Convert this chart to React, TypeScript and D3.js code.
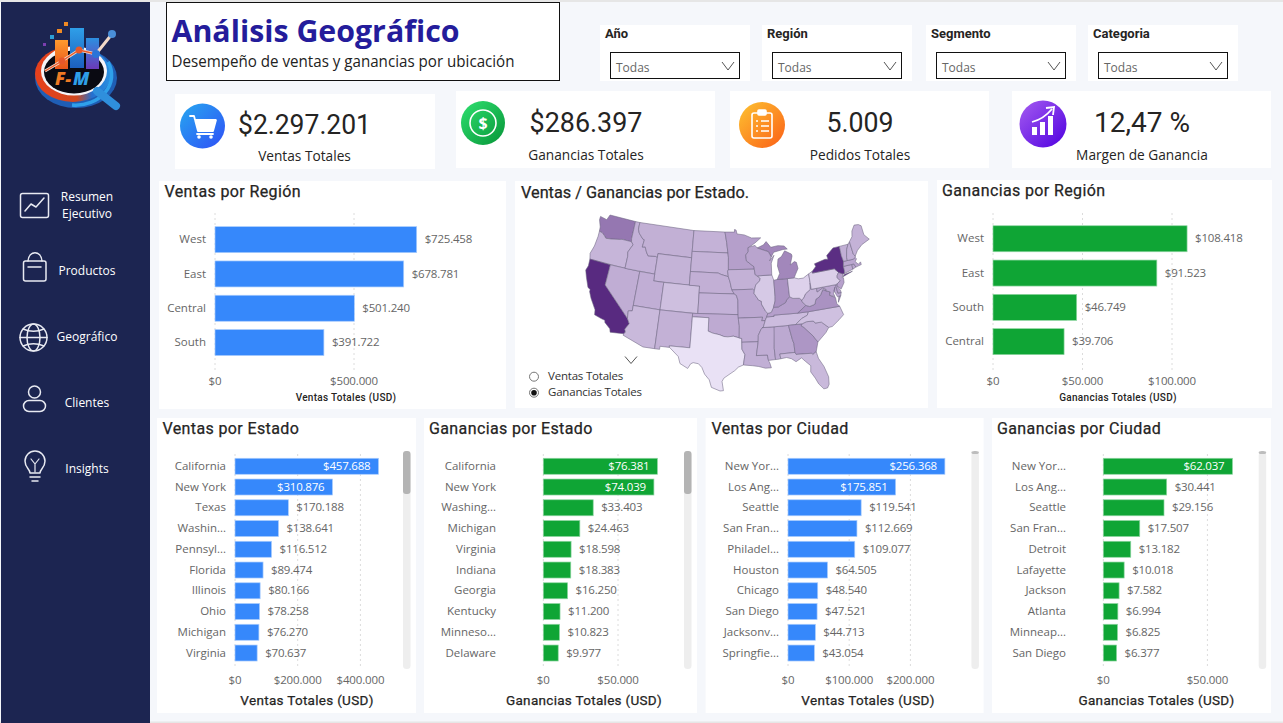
import * as d3 from "d3";

const SANS = "'Open Sans', 'Noto Sans', sans-serif";
const DIN = "Roboto, 'Noto Sans', sans-serif";

// data
const regionSalesNames = ["West", "East", "Central", "South"];
const regionSalesValues = [725458, 678781, 501240, 391722];
const regionProfitNames = ["West", "East", "South", "Central"];
const regionProfitValues = [108418, 91523, 46749, 39706];

const stateSalesNames = ["California", "New York", "Texas", "Washin...", "Pennsyl...", "Florida", "Illinois", "Ohio", "Michigan", "Virginia"];
const stateSalesValues = [457688, 310876, 170188, 138641, 116512, 89474, 80166, 78258, 76270, 70637];
const stateProfitNames = ["California", "New York", "Washing...", "Michigan", "Virginia", "Indiana", "Georgia", "Kentucky", "Minneso...", "Delaware"];
const stateProfitValues = [76381, 74039, 33403, 24463, 18598, 18383, 16250, 11200, 10823, 9977];
const citySalesNames = ["New Yor...", "Los Ang...", "Seattle", "San Fran...", "Philadel...", "Houston", "Chicago", "San Diego", "Jacksonv...", "Springfie..."];
const citySalesValues = [256368, 175851, 119541, 112669, 109077, 64505, 48540, 47521, 44713, 43054];
const cityProfitNames = ["New Yor...", "Los Ang...", "Seattle", "San Fran...", "Detroit", "Lafayette", "Jackson", "Atlanta", "Minneap...", "San Diego"];
const cityProfitValues = [62037, 30441, 29156, 17507, 13182, 10018, 7582, 6994, 6825, 6377];

const slicerTitles = ["Año", "Región", "Segmento", "Categoria"];
const navLabels = [["Resumen", "Ejecutivo"], ["Productos"], ["Geográfico"], ["Clientes"], ["Insights"]];
const legendLabels = ["Ventas Totales", "Ganancias Totales"];

// ganancias por estado, estimated from the map shading
const stateProfit: Record<string, number> = {
  CA: 76381, NY: 74039, WA: 33403, MI: 24463, VA: 18598, IN: 18383, GA: 16250, KY: 11200, MN: 10823, DE: 9977,
  NJ: 9772, WI: 8402, RI: 7286, MD: 7031, MA: 6786, MO: 6436, AL: 5787, OK: 4854, AR: 4009, CT: 3511, NV: 3316,
  MS: 3172, UT: 2547, VT: 2244, LA: 2196, NE: 2037, MT: 1833, SC: 1769, NH: 1706, IA: 1183, NM: 1157,
  KS: 836, ID: 827, ME: 454, SD: 394, ND: 230, WV: 186, WY: 100, OR: -1190, FL: -3399, AZ: -3428,
  TN: -5342, CO: -6528, NC: -7491, IL: -12608, PA: -15560, OH: -16971, TX: -25729,
};

// simplified state outlines, [lon, lat]
const stateShapes: Record<string, number[][][]> = {
  WA: [[[-124.7,48.4],[-123.2,48.2],[-122.8,49],[-117.03,49],[-117.04,46.4],[-116.92,45.99],[-118.98,46],[-119.3,45.93],[-121.2,45.65],[-122.3,45.55],[-122.8,45.9],[-123.4,46.2],[-124,46.27],[-124.1,46.9],[-124.7,47.9]]],
  OR: [[[-124,46.27],[-123.4,46.2],[-122.8,45.9],[-122.3,45.55],[-121.2,45.65],[-119.3,45.93],[-118.98,46],[-116.92,45.99],[-116.46,45.6],[-116.9,44.9],[-117.2,44.4],[-117.03,43.8],[-117.03,42],[-124.2,42],[-124.5,42.8],[-124.1,44],[-123.95,45.5]]],
  CA: [[[-124.2,42],[-120,42],[-120,39],[-114.63,35],[-114.14,34.3],[-114.72,33.4],[-114.52,33],[-114.72,32.72],[-117.12,32.53],[-117.3,33],[-118.4,33.74],[-118.5,34.03],[-119.2,34.15],[-120.5,34.45],[-120.65,35.15],[-121.9,36.6],[-122.5,37.5],[-122.5,37.8],[-123,38],[-123.8,39.3],[-124.35,40.3],[-124.1,41]]],
  NV: [[[-120,42],[-114.04,42],[-114.04,36.2],[-114.75,36.1],[-114.63,35],[-120,39]]],
  ID: [[[-117.03,49],[-116.05,49],[-116.05,48],[-115.7,47.45],[-114.7,46.7],[-114.35,46.65],[-114.5,45.55],[-113.9,45.65],[-113.45,44.95],[-113,44.45],[-111.5,44.55],[-111.05,44.48],[-111.05,42],[-117.03,42],[-117.03,43.8],[-117.2,44.4],[-116.9,44.9],[-116.46,45.6],[-116.92,45.99],[-117.04,46.4]]],
  MT: [[[-116.05,49],[-104.05,49],[-104.05,45],[-111.05,45],[-111.05,44.48],[-111.5,44.55],[-113,44.45],[-113.45,44.95],[-113.9,45.65],[-114.5,45.55],[-114.35,46.65],[-114.7,46.7],[-115.7,47.45],[-116.05,48]]],
  WY: [[[-111.05,45],[-104.05,45],[-104.05,41],[-111.05,41]]],
  UT: [[[-114.04,42],[-111.05,42],[-111.05,41],[-109.05,41],[-109.05,37],[-114.04,37]]],
  CO: [[[-109.05,41],[-102.05,41],[-102.05,37],[-109.05,37]]],
  AZ: [[[-114.04,37],[-109.05,37],[-109.05,31.33],[-111.07,31.33],[-114.81,32.5],[-114.72,32.72],[-114.52,33],[-114.72,33.4],[-114.14,34.3],[-114.63,35],[-114.75,36.1],[-114.04,36.2]]],
  NM: [[[-109.05,37],[-103,37],[-103.04,32],[-106.62,32],[-106.53,31.78],[-108.2,31.78],[-108.2,31.33],[-109.05,31.33]]],
  ND: [[[-104.05,49],[-97.23,49],[-96.85,47.5],[-96.56,45.94],[-104.05,45.94]]],
  SD: [[[-104.05,45.94],[-96.56,45.94],[-96.45,45.3],[-96.45,43.5],[-96.6,43.3],[-96.45,42.49],[-97.9,42.8],[-98.5,43],[-104.05,43]]],
  NE: [[[-104.05,43],[-98.5,43],[-97.9,42.8],[-96.45,42.49],[-96.1,41.7],[-95.9,41],[-95.31,40],[-102.05,40],[-102.05,41],[-104.05,41]]],
  KS: [[[-102.05,40],[-95.31,40],[-94.9,39.8],[-94.62,39.1],[-94.62,37],[-102.05,37]]],
  OK: [[[-103,37],[-94.62,37],[-94.43,35.4],[-94.48,33.64],[-95.5,33.9],[-96.5,33.8],[-97.2,33.85],[-98,34.1],[-99.2,34.3],[-100,34.56],[-100,36.5],[-103,36.5]]],
  TX: [[[-106.62,32],[-103.04,32],[-103,36.5],[-100,36.5],[-100,34.56],[-99.2,34.3],[-98,34.1],[-97.2,33.85],[-96.5,33.8],[-95.5,33.9],[-94.48,33.64],[-94.04,33.55],[-94.04,32],[-93.55,31.2],[-93.85,29.7],[-94.7,29.4],[-95.3,28.9],[-97.1,27.8],[-97.4,27.3],[-97.15,25.96],[-97.7,25.9],[-99.1,26.4],[-99.5,27.5],[-100.3,28.3],[-100.8,29.25],[-101.4,29.77],[-102.3,29.88],[-102.7,29.7],[-103.15,28.98],[-104.5,29.6],[-104.9,30.6],[-106.53,31.78]]],
  MN: [[[-97.23,49],[-95.15,49],[-95.15,49.38],[-94.8,49.3],[-94.6,48.72],[-93,48.55],[-91.5,48.07],[-89.5,48],[-90.8,47.3],[-92.05,46.75],[-92.3,46.66],[-92.3,46.1],[-92.85,45.6],[-92.75,44.75],[-91.25,43.85],[-91.22,43.5],[-96.45,43.5],[-96.45,45.3],[-96.56,45.94],[-96.85,47.5]]],
  IA: [[[-96.45,43.5],[-91.22,43.5],[-91.1,42.7],[-90.15,42.1],[-90.3,41.75],[-91.1,41.2],[-91.42,40.38],[-91.73,40.61],[-95.77,40.58],[-95.9,41],[-96.1,41.7],[-96.45,42.49],[-96.6,43.3]]],
  MO: [[[-95.77,40.58],[-91.73,40.61],[-91.42,40.38],[-91.5,40],[-90.7,39],[-90.18,38.8],[-90.2,38.4],[-89.5,37.3],[-89.13,37],[-89.4,36.5],[-89.7,36],[-90.37,36],[-90.15,36.5],[-94.62,36.5],[-94.62,39.1],[-94.9,39.8],[-95.31,40]]],
  AR: [[[-94.62,36.5],[-90.15,36.5],[-90.37,36],[-89.7,36],[-90.1,35.1],[-90.6,34.7],[-91.1,33.9],[-91.17,33],[-94.04,33],[-94.04,33.55],[-94.48,33.64],[-94.43,35.4]]],
  LA: [[[-94.04,33],[-91.17,33],[-91.6,31],[-89.73,31],[-89.6,30.2],[-89.4,29.8],[-89.2,29.1],[-90.2,29.1],[-91.3,29.4],[-92.3,29.55],[-93.85,29.7],[-93.55,31.2],[-94.04,32]]],
  MS: [[[-91.17,33],[-91.1,33.9],[-90.6,34.7],[-90.3,35],[-88.2,35],[-88.1,34.9],[-88.47,31.9],[-88.4,30.25],[-89.6,30.2],[-89.73,31],[-91.6,31]]],
  AL: [[[-88.2,35],[-85.6,35],[-85.18,32.87],[-85,32.3],[-85,31],[-87.6,31],[-87.5,30.3],[-88,30.25],[-88.4,30.25],[-88.47,31.9]]],
  TN: [[[-90.3,35],[-90.1,35.1],[-89.7,36],[-89.4,36.5],[-88.05,36.5],[-88.07,36.68],[-83.68,36.6],[-81.68,36.59],[-82,36.1],[-83.1,35.75],[-84.3,35],[-85.6,35],[-88.2,35]]],
  KY: [[[-89.4,36.5],[-89.13,37],[-88.5,37.1],[-88,37.8],[-87.1,37.8],[-86.3,38.1],[-85.7,38.3],[-85.4,38.7],[-84.8,39.1],[-84.2,38.8],[-83,38.7],[-82.6,38.4],[-82.6,38.17],[-81.97,37.54],[-83.68,36.6],[-88.07,36.68],[-88.05,36.5]]],
  IL: [[[-91.42,40.38],[-91.1,41.2],[-90.3,41.75],[-90.15,42.1],[-90.64,42.5],[-87.8,42.5],[-87.5,41.7],[-87.53,39.35],[-87.6,38.7],[-88,37.8],[-88.5,37.1],[-89.13,37],[-89.5,37.3],[-90.2,38.4],[-90.18,38.8],[-90.7,39],[-91.5,40]]],
  IN: [[[-87.5,41.7],[-86.82,41.76],[-84.8,41.73],[-84.8,39.1],[-85.4,38.7],[-85.7,38.3],[-86.3,38.1],[-87.1,37.8],[-88,37.8],[-87.6,38.7],[-87.53,39.35]]],
  OH: [[[-84.8,41.73],[-83.45,41.73],[-82.7,41.5],[-81.7,41.5],[-80.52,41.98],[-80.52,40.64],[-80.7,39.7],[-81.7,39.2],[-82.2,38.6],[-82.6,38.4],[-83,38.7],[-84.2,38.8],[-84.8,39.1]]],
  MI: [[[-86.82,41.76],[-84.8,41.73],[-83.45,41.73],[-83.1,42.2],[-82.45,43],[-82.6,43.9],[-83,44.05],[-83.9,43.65],[-83.3,44.9],[-83.4,45.2],[-84.7,45.78],[-85.5,45],[-86.25,44.7],[-86.5,43.7],[-86.2,42.6]],
       [[-90.4,46.55],[-88.1,45.9],[-87.6,45.1],[-87,45.75],[-85,46],[-84.1,46],[-84.7,46.5],[-86,46.65],[-87.5,46.5],[-88.4,47.4],[-89,46.95]]],
  WI: [[[-92.3,46.66],[-92.05,46.75],[-90.8,46.95],[-90.4,46.55],[-88.1,45.9],[-87.6,45.1],[-88,44.55],[-87,45.3],[-87.7,44.2],[-87.8,42.5],[-90.64,42.5],[-91.1,42.7],[-91.22,43.5],[-91.25,43.85],[-92.75,44.75],[-92.85,45.6],[-92.3,46.1]]],
  GA: [[[-85.6,35],[-84.3,35],[-83.1,35],[-83.35,34.7],[-82.9,34.45],[-81.5,33],[-80.85,32.05],[-81.4,30.7],[-82.05,30.36],[-82.2,30.57],[-84.86,30.7],[-85,31],[-85,32.3],[-85.18,32.87]]],
  FL: [[[-87.6,31],[-85,31],[-84.86,30.7],[-82.2,30.57],[-82.05,30.36],[-81.4,30.7],[-81.2,29.7],[-80.5,28.4],[-80.03,26.8],[-80.15,25.7],[-80.5,25.2],[-81.1,25.15],[-81.8,26],[-82.2,26.9],[-82.8,27.9],[-82.65,28.8],[-83.4,29.5],[-84,30.1],[-85,29.65],[-85.7,30.15],[-86.5,30.4],[-87.5,30.3]]],
  SC: [[[-83.1,35],[-82.3,35.2],[-81.05,35.15],[-80.8,34.82],[-79.67,34.8],[-78.55,33.86],[-79.2,33.2],[-80.85,32.05],[-81.5,33],[-82.9,34.45],[-83.35,34.7]]],
  NC: [[[-84.3,35],[-83.1,35.75],[-82,36.1],[-81.68,36.59],[-75.87,36.55],[-75.5,35.25],[-76.5,34.65],[-77.9,33.9],[-78.55,33.86],[-79.67,34.8],[-80.8,34.82],[-81.05,35.15],[-82.3,35.2],[-83.1,35]]],
  VA: [[[-83.68,36.6],[-81.97,37.54],[-81.3,37.3],[-80.3,37.5],[-79.95,38.2],[-79.3,38.42],[-78.87,38.77],[-78.35,39.4],[-77.8,39.13],[-77.05,38.85],[-77.3,38.4],[-76.3,37.9],[-76.3,37],[-75.87,36.55],[-81.68,36.59]],
       [[-75.95,37.15],[-75.25,38.03],[-75.65,37.95]]],
  WV: [[[-82.6,38.17],[-82.6,38.4],[-82.2,38.6],[-81.7,39.2],[-80.7,39.7],[-80.52,40.64],[-80.52,39.72],[-79.48,39.72],[-79.48,39.2],[-78.35,39.63],[-77.72,39.32],[-77.8,39.13],[-78.35,39.4],[-78.87,38.77],[-79.3,38.42],[-79.95,38.2],[-80.3,37.5],[-81.3,37.3],[-81.97,37.54]]],
  MD: [[[-79.48,39.72],[-75.79,39.72],[-75.69,38.46],[-75.05,38.45],[-75.25,38.03],[-75.9,37.95],[-76.3,38.9],[-76,39.4],[-76.5,38.5],[-76.35,38.05],[-77.3,38.4],[-77.05,38.85],[-77.8,39.13],[-77.72,39.32],[-78.35,39.63],[-79.48,39.2]]],
  DE: [[[-75.79,39.72],[-75.4,39.8],[-75.55,39.5],[-75.1,38.8],[-75.05,38.45],[-75.69,38.46]]],
  PA: [[[-80.52,41.98],[-79.76,42.25],[-79.76,42],[-75.35,42],[-74.7,41.36],[-75.1,40.95],[-75.2,40.65],[-74.72,40.15],[-75.4,39.8],[-75.79,39.72],[-80.52,39.72]]],
  NJ: [[[-74.7,41.36],[-73.9,41],[-74.25,40.5],[-74,40.45],[-74.1,39.75],[-74.9,38.95],[-75.55,39.5],[-75.4,39.8],[-74.72,40.15],[-75.2,40.65],[-75.1,40.95]]],
  NY: [[[-79.76,42],[-79.76,42.25],[-78.9,42.85],[-79.05,43.27],[-76.8,43.63],[-76.2,43.55],[-76.3,44.1],[-74.7,45],[-73.35,45],[-73.4,43.6],[-73.25,42.75],[-73.5,42.05],[-73.5,41.3],[-73.65,41],[-73.9,41],[-74.7,41.36],[-75.35,42]],
       [[-74.05,40.6],[-72,41.05],[-73.7,40.88]]],
  CT: [[[-73.5,42.05],[-71.8,42.02],[-71.85,41.32],[-73.65,41],[-73.5,41.3]]],
  RI: [[[-71.8,42.02],[-71.38,42.02],[-71.15,41.5],[-71.85,41.32]]],
  MA: [[[-73.5,42.05],[-73.25,42.75],[-72.46,42.73],[-71.3,42.7],[-70.8,42.87],[-70.6,42.65],[-71,42.3],[-70.55,41.8],[-70,42.05],[-70,41.65],[-71.15,41.5],[-71.38,42.02],[-71.8,42.02]]],
  VT: [[[-73.35,45],[-71.5,45],[-72.05,44.3],[-72.45,43.2],[-72.46,42.73],[-73.25,42.75],[-73.4,43.6]]],
  NH: [[[-71.5,45],[-71.08,45.3],[-70.98,43.4],[-70.7,43.07],[-70.8,42.87],[-71.3,42.7],[-72.46,42.73],[-72.45,43.2],[-72.05,44.3]]],
  ME: [[[-71.08,45.3],[-70.3,45.9],[-70,46.7],[-69.2,47.45],[-68.3,47.35],[-67.8,47.07],[-67.8,45.7],[-67,44.85],[-68.8,44.4],[-70,43.75],[-70.7,43.07],[-70.98,43.4]]],
};

const money = d3.formatLocale({ decimal: ",", thousands: ".", grouping: [3], currency: ["$", ""] }).format("$,.0f");

const BLUE = "#3688fb";
const GREEN = "#0fa535";

type ChartProps = {
  title: string;
  names: string[];
  values: number[];
  ticks: number[];
  color: string;
  axisTitle: string;
  insideLabels: number;
  panel: [number, number, number, number];
  titleX: number;
  titleY: number;
  x0: number;
  lastTickX: number;
  labelX: number;
  band: [number, number];
  padding: number;
  grid: [number, number];
  tickY: number;
  axisX: number;
  axisY: number;
  axisSize: number;
  axisWeight?: number;
  scroll?: { x: number; thumb: number };
};

function Txt({ x, y, size, fill = "#222", anchor = "start", font = SANS, weight = 400, ls, fit, thick, children }: any) {
  // Open Sans sits a little low with a central baseline
  const dy = font === SANS ? -0.8 : 0;
  return (
    <text
      x={x}
      y={y + dy}
      fontSize={size}
      fill={fill}
      stroke={thick ? fill : undefined}
      strokeWidth={thick}
      textAnchor={anchor}
      fontFamily={font}
      fontWeight={weight}
      letterSpacing={ls}
      dominantBaseline="central"
      textLength={fit}
      lengthAdjust={fit ? "spacingAndGlyphs" : undefined}
    >
      {children}
    </text>
  );
}

function BarChart(p: ChartProps) {
  const x = d3.scaleLinear().domain([0, p.ticks[p.ticks.length - 1]]).range([p.x0, p.lastTickX]);
  const y = d3.scaleBand().domain(p.names).range(p.band).paddingInner(p.padding).paddingOuter(p.padding / 2);
  return (
    <g>
      <rect x={p.panel[0]} y={p.panel[1]} width={p.panel[2] - p.panel[0]} height={p.panel[3] - p.panel[1]} fill="#fff" />
      <Txt x={p.titleX} y={p.titleY} size={16} font={DIN} ls={0.38} thick={0.25} fill="#252423">{p.title}</Txt>
      {p.ticks.map((t) => (
        <g key={t}>
          <line x1={x(t)} x2={x(t)} y1={p.grid[0]} y2={p.grid[1]} stroke="#dcdcdc" strokeDasharray="2 3" />
          <Txt x={x(t)} y={p.tickY} size={11.5} fill="#666" anchor="middle" ls={-0.15}>{money(t)}</Txt>
        </g>
      ))}
      {p.names.map((n, i) => {
        const v = p.values[i];
        const inside = i < p.insideLabels;
        const yc = (y(n) as number) + y.bandwidth() / 2;
        return (
          <g key={n}>
            <Txt x={p.labelX} y={yc} size={11.5} fill="#666" anchor="end">{n}</Txt>
            <rect x={x(0)} y={y(n)} width={x(v) - x(0)} height={y.bandwidth()} fill={p.color} stroke={p.color === BLUE ? "#a9ccfd" : "#8fd6a2"} strokeWidth={0.7} />
            <Txt x={inside ? x(v) - 8 : x(v) + 8} y={yc} size={11.5} ls={-0.2} anchor={inside ? "end" : "start"} fill={inside ? "#fff" : "#666"}>{money(v)}</Txt>
          </g>
        );
      })}
      <Txt x={p.axisX} y={p.axisY} size={p.axisSize} anchor="middle" font={DIN} weight={p.axisWeight ?? 400} ls={0.3} thick={p.axisWeight ? undefined : 0.25} fill="#252423">{p.axisTitle}</Txt>
      {p.scroll && (
        <g>
          <rect x={p.scroll.x} y={452} width={7.5} height={217} rx={3.5} fill="#eeeeee" />
          <rect x={p.scroll.x} y={451} width={7.5} height={p.scroll.thumb} rx={3} fill={p.scroll.thumb > 10 ? "#b4b4b4" : "#bdbdbd"} />
        </g>
      )}
    </g>
  );
}

function UsMap() {
  const features = Object.keys(stateShapes).map((id) => ({
    type: "Feature" as const,
    id,
    properties: {},
    geometry: {
      type: "MultiPolygon" as const,
      coordinates: stateShapes[id].map((ring) => {
        const closed = [...ring, ring[0]];
        // d3 wants rings wound so the polygon is the small side of the globe
        return [d3.geoArea({ type: "Polygon", coordinates: [closed] } as any) > 2 * Math.PI ? closed.slice().reverse() : closed];
      }),
    },
  }));
  const projection = d3.geoAlbers().fitExtent([[585, 215], [870, 391]], { type: "FeatureCollection", features } as any);
  const path = d3.geoPath(projection);
  const profits = Object.values(stateProfit);
  const color = d3.scaleLinear<string>().domain([d3.min(profits) as number, d3.max(profits) as number]).range(["#e9e1f5", "#582a80"]);
  return (
    <g>
      {features.map((f) => (
        <path key={f.id} d={path(f as any) ?? ""} fill={color(stateProfit[f.id])} stroke="#6d6580" strokeWidth={0.55} strokeLinejoin="round" />
      ))}
    </g>
  );
}

function Chevron({ x, y, w = 7, h = 4 }: { x: number; y: number; w?: number; h?: number }) {
  return <polyline points={`${x - w},${y - h} ${x},${y + h} ${x + w},${y - h}`} fill="none" stroke="#555" strokeWidth={1} />;
}

function Logo() {
  return (
    <g>
      <defs>
        <linearGradient id="lgOrange" x1="0" y1="0" x2="0" y2="1">
          <stop offset="0" stopColor="#ff9a2e" />
          <stop offset="1" stopColor="#e8541a" />
        </linearGradient>
        <linearGradient id="lgBlue" x1="0" y1="0" x2="0" y2="1">
          <stop offset="0" stopColor="#2f9fe8" />
          <stop offset="1" stopColor="#1c5fc0" />
        </linearGradient>
        <linearGradient id="lgViolet" x1="0" y1="0" x2="0" y2="1">
          <stop offset="0" stopColor="#2c8fe0" />
          <stop offset="1" stopColor="#6b3ab8" />
        </linearGradient>
        <linearGradient id="lgRing" x1="0" y1="0" x2="1" y2="0">
          <stop offset="0" stopColor="#e8401c" />
          <stop offset="0.55" stopColor="#d0481e" />
          <stop offset="0.75" stopColor="#2470d0" />
          <stop offset="1" stopColor="#2a8fe0" />
        </linearGradient>
      </defs>
      <ellipse cx={76} cy={78} rx={41} ry={30} fill="#1f5eb5" />
      <ellipse cx={73} cy={74} rx={38} ry={28} fill="url(#lgRing)" />
      <path d="M108,62 A36,30 0 0 1 72,105" fill="none" stroke="#2fa0ea" strokeWidth={3.5} />
      <ellipse cx={74} cy={71} rx={33} ry={24.5} fill="#f4f4f8" />
      <ellipse cx={74} cy={72} rx={30} ry={21.5} fill="#0a0a12" />
      <rect x={55} y={40} width={13} height={29} fill="url(#lgOrange)" />
      <rect x={70} y={28} width={14} height={40} fill="url(#lgBlue)" />
      <rect x={86} y={38} width={13} height={31} fill="url(#lgViolet)" />
      <rect x={64} y={22} width={4} height={4} fill="#f08a24" />
      <rect x={57} y={29} width={5} height={4} fill="#f08a24" />
      <rect x={50} y={35} width={4} height={4} fill="#2d9fd8" />
      <rect x={43} y={43} width={3} height={3} fill="#7b3fb0" />
      <polyline points="45,71 62,61 79,50 96,54 112,34" fill="none" stroke="#f2d9c8" strokeWidth={3} />
      <polyline points="45,71 62,61 79,50 96,54" fill="none" stroke="#e8582a" strokeWidth={1.4} />
      <circle cx={62} cy={61} r={3.5} fill="#e8582a" />
      <circle cx={79} cy={50} r={3.5} fill="#e8582a" />
      <circle cx={96} cy={54} r={4} fill="#2a74d8" />
      <circle cx={112} cy={34} r={4} fill="#4a8fd8" />
      <line x1={97} y1={91} x2={116} y2={106} stroke="#2f8fdc" strokeWidth={8} strokeLinecap="round" />
      <text x={55} y={85} fontFamily={SANS} fontSize={18} fontWeight={800} fontStyle="italic" fill="#ee7a24">F-</text>
      <text x={73} y={85} fontFamily={SANS} fontSize={18} fontWeight={800} fontStyle="italic" fill="#2f9fe8">M</text>
    </g>
  );
}

function NavIcons() {
  return (
    <g fill="none" stroke="#e8eaf2" strokeWidth={1.5} strokeLinecap="round" strokeLinejoin="round">
      <rect x={20.5} y={193.5} width={28} height={24} rx={2} />
      <polyline points="25,211 31,204 36,207 44,198" />
      <rect x={23.5} y={261} width={22.5} height={20} rx={2} />
      <path d="M28,261 C29,250 41,250 42,261" />
      <line x1={28} y1={267} x2={41} y2={267} />
      <circle cx={33.5} cy={337.5} r={13.5} />
      <ellipse cx={33.5} cy={337.5} rx={6.5} ry={13.5} />
      <line x1={20} y1={337.5} x2={47} y2={337.5} />
      <path d="M23,329 C30,332 37,332 44,329" />
      <path d="M23,346 C30,343 37,343 44,346" />
      <circle cx={34.5} cy={392} r={6} />
      <rect x={23.5} y={400.5} width={22} height={11} rx={5.5} />
      <path d="M30,473 C30,469 25,468 25,461 A10,10 0 0 1 45,461 C45,468 40,469 40,473 Z" />
      <path d="M31,459 L35,464 L39,459 M35,464 V472" strokeWidth={1.2} />
      <line x1={30} y1={477} x2={40} y2={477} />
      <line x1={32} y1={481} x2={38} y2={481} />
    </g>
  );
}

function KpiIcons() {
  return (
    <g>
      <defs>
        <linearGradient id="kBlue" x1="0" y1="0" x2="1" y2="1">
          <stop offset="0" stopColor="#27a8f0" />
          <stop offset="1" stopColor="#2f4ff6" />
        </linearGradient>
        <linearGradient id="kGreen" x1="0" y1="0" x2="1" y2="1">
          <stop offset="0" stopColor="#2fe070" />
          <stop offset="1" stopColor="#079538" />
        </linearGradient>
        <linearGradient id="kOrange" x1="0" y1="0" x2="1" y2="1">
          <stop offset="0" stopColor="#fdc331" />
          <stop offset="1" stopColor="#fb5f17" />
        </linearGradient>
        <linearGradient id="kViolet" x1="0" y1="0" x2="1" y2="1">
          <stop offset="0" stopColor="#a55cf0" />
          <stop offset="1" stopColor="#4f00e0" />
        </linearGradient>
      </defs>
      <circle cx={202.5} cy={126} r={22.5} fill="url(#kBlue)" />
      <g fill="none" stroke="#fff" strokeWidth={1.8} strokeLinejoin="round" strokeLinecap="round">
        <path d="M190,116 H194 L198,131 H213 L216,120 H195" />
        <line x1={197} y1={134} x2={213} y2={134} />
      </g>
      <path d="M195,119 H216 L213,131 H198 Z" fill="#fff" />
      <circle cx={199} cy={137} r={1.8} fill="#fff" />
      <circle cx={211} cy={137} r={1.8} fill="#fff" />
      <circle cx={483} cy={123} r={22} fill="url(#kGreen)" />
      <circle cx={483} cy={123} r={13} fill="none" stroke="#fff" strokeWidth={1.6} />
      <text x={483} y={122.5} textAnchor="middle" dominantBaseline="central" fontSize={16} fontWeight={700} fontFamily={SANS} fill="#fff">$</text>
      <circle cx={762} cy={125} r={23} fill="url(#kOrange)" />
      <g fill="none" stroke="#fff" strokeWidth={1.6}>
        <rect x={752} y={113} width={20} height={25} rx={2} />
        <rect x={758} y={110} width={8} height={5} rx={1} fill="#fff" />
        <path d="M756,121 h2 M761,121 h8 M756,126 h2 M761,126 h8 M756,131 h2 M761,131 h8" />
      </g>
      <circle cx={1043} cy={124} r={23.5} fill="url(#kViolet)" />
      <g fill="#fff">
        <rect x={1032} y={127} width={5} height={8} />
        <rect x={1040} y={122} width={5} height={13} />
        <rect x={1048} y={116} width={5} height={19} />
      </g>
      <path d="M1032,122 C1040,120 1047,115 1052,109 M1046,108 L1054,107 L1053,115" fill="none" stroke="#fff" strokeWidth={1.8} />
    </g>
  );
}

const kpis = [
  { card: [175, 94, 435, 169], value: "$2.297.201", label: "Ventas Totales", cx: 304.5, vy: 124, ly: 156.5, fit: 133 },
  { card: [456, 91, 715, 168], value: "$286.397", label: "Ganancias Totales", cx: 586, vy: 122, ly: 155, fit: 113 },
  { card: [730, 91, 989, 168], value: "5.009", label: "Pedidos Totales", cx: 860, vy: 122, ly: 155, fit: 67 },
  { card: [1012, 91, 1271, 168], value: "12,47 %", label: "Margen de Ganancia", cx: 1142, vy: 122, ly: 155, fit: 96 },
];

const slicerX = [600, 762, 926, 1088];
const navY = [[197, 214], [271], [337], [403], [469]];

export default function App() {
  const stateBand: [number, number] = [455.9, 663.4];
  const stateCommon = {
    band: stateBand,
    padding: 0.229,
    grid: [454, 667] as [number, number],
    tickY: 680.7,
    axisY: 700,
    axisSize: 13.5,
    titleY: 428,
  };
  return (
    <svg width={1283} height={723} style={{ position: "absolute", left: 0, top: 0, display: "block" }}>
      <rect width={1283} height={723} fill="#f5f7fb" />
      <rect width={1283} height={2} fill="#e6e6e6" />
      <rect y={721.5} width={1283} height={1.5} fill="#e6e6e6" />
      <rect x={1} y={2} width={149} height={721} fill="#1c2551" />
      <Logo />
      <NavIcons />
      {navLabels.map((lines, i) =>
        lines.map((line, j) => (
          <Txt key={line} x={87} y={navY[i][j]} size={12} fill="#fff" anchor="middle">{line}</Txt>
        )),
      )}

      <rect x={166.5} y={2.5} width={393} height={78} fill="#fff" stroke="#111" />
      <Txt x={171.5} y={31} size={31} weight={700} fill="#241c9b" fit={288}>Análisis Geográfico</Txt>
      <Txt x={171.5} y={62} size={15.5} fill="#222" fit={343}>Desempeño de ventas y ganancias por ubicación</Txt>

      {slicerTitles.map((t, i) => (
        <g key={t}>
          <rect x={slicerX[i]} y={25} width={150} height={56} fill="#fff" />
          <Txt x={slicerX[i] + 5} y={33} size={13} font={DIN} weight={700} fill="#252423">{t}</Txt>
          <rect x={slicerX[i] + 10.5} y={52.5} width={129} height={26} fill="#fff" stroke="#111" />
          <Txt x={slicerX[i] + 16} y={68} size={12} fill="#666">Todas</Txt>
          <Chevron x={slicerX[i] + 128} y={66} w={6} h={4} />
        </g>
      ))}

      {kpis.map((k) => (
        <g key={k.label}>
          <rect x={k.card[0]} y={k.card[1]} width={k.card[2] - k.card[0]} height={k.card[3] - k.card[1]} fill="#fff" />
          <Txt x={k.cx} y={k.vy} size={28} font={DIN} fill="#252423" anchor="middle" fit={k.fit}>{k.value}</Txt>
          <Txt x={k.cx} y={k.ly} size={13.7} fill="#252423" anchor="middle">{k.label}</Txt>
        </g>
      ))}
      <KpiIcons />

      <BarChart
        title="Ventas por Región"
        names={regionSalesNames}
        values={regionSalesValues}
        ticks={[0, 500000]}
        color={BLUE}
        axisTitle="Ventas Totales (USD)"
        insideLabels={0}
        panel={[159, 181, 506, 409]}
        titleX={164.5}
        titleY={191.5}
        x0={215}
        lastTickX={354}
        labelX={206}
        band={[222.5, 359.7]}
        padding={0.242}
        grid={[213, 372]}
        tickY={381}
        axisX={346}
        axisY={397}
        axisSize={10}
        axisWeight={500}
      />
      <rect x={515} y={181} width={413} height={227} fill="#fff" />
      <Txt x={521} y={192} size={16} font={DIN} thick={0.25} fill="#252423" fit={228}>Ventas / Ganancias por Estado.</Txt>
      <UsMap />
      <Chevron x={631} y={360} w={6} h={3.5} />
      {legendLabels.map((l, i) => (
        <g key={l}>
          <circle cx={534} cy={376.7 + i * 16} r={4.5} fill="#fff" stroke="#777" />
          {i === 1 && <circle cx={534} cy={392.7} r={2.8} fill="#111" />}
          <Txt x={548} y={376.7 + i * 16} size={11.5} ls={-0.2} fill="#333">{l}</Txt>
        </g>
      ))}
      <BarChart
        title="Ganancias por Región"
        names={regionProfitNames}
        values={regionProfitValues}
        ticks={[0, 50000, 100000]}
        color={GREEN}
        axisTitle="Ganancias Totales (USD)"
        insideLabels={0}
        panel={[937, 180, 1272, 408]}
        titleX={942}
        titleY={190.5}
        x0={993}
        lastTickX={1172}
        labelX={984}
        band={[221.6, 358.8]}
        padding={0.242}
        grid={[213, 372]}
        tickY={381}
        axisX={1118}
        axisY={397}
        axisSize={10}
        axisWeight={500}
      />

      <BarChart
        {...stateCommon}
        title="Ventas por Estado"
        names={stateSalesNames}
        values={stateSalesValues}
        ticks={[0, 200000, 400000]}
        color={BLUE}
        axisTitle="Ventas Totales (USD)"
        insideLabels={2}
        panel={[157, 418, 416, 713]}
        titleX={162.5}
        x0={235}
        lastTickX={360.4}
        labelX={226}
        axisX={307}
        scroll={{ x: 403, thumb: 43 }}
      />
      <BarChart
        {...stateCommon}
        title="Ganancias por Estado"
        names={stateProfitNames}
        values={stateProfitValues}
        ticks={[0, 50000]}
        color={GREEN}
        axisTitle="Ganancias Totales (USD)"
        insideLabels={2}
        panel={[424, 418, 697, 713]}
        titleX={429}
        x0={543.3}
        lastTickX={618}
        labelX={496}
        axisX={584}
        scroll={{ x: 684, thumb: 43 }}
      />
      <BarChart
        {...stateCommon}
        title="Ventas por Ciudad"
        names={citySalesNames}
        values={citySalesValues}
        ticks={[0, 100000, 200000]}
        color={BLUE}
        axisTitle="Ventas Totales (USD)"
        insideLabels={2}
        panel={[705.6, 418, 983.6, 713]}
        titleX={711.5}
        x0={788}
        lastTickX={910.4}
        labelX={779}
        axisX={868}
        scroll={{ x: 971.4, thumb: 3 }}
      />
      <BarChart
        {...stateCommon}
        title="Ganancias por Ciudad"
        names={cityProfitNames}
        values={cityProfitValues}
        ticks={[0, 50000]}
        color={GREEN}
        axisTitle="Ganancias Totales (USD)"
        insideLabels={1}
        panel={[992, 418, 1271, 713]}
        titleX={997}
        x0={1103.3}
        lastTickX={1207.4}
        labelX={1066}
        axisX={1156.5}
        scroll={{ x: 1258.7, thumb: 3 }}
      />
    </svg>
  );
}
